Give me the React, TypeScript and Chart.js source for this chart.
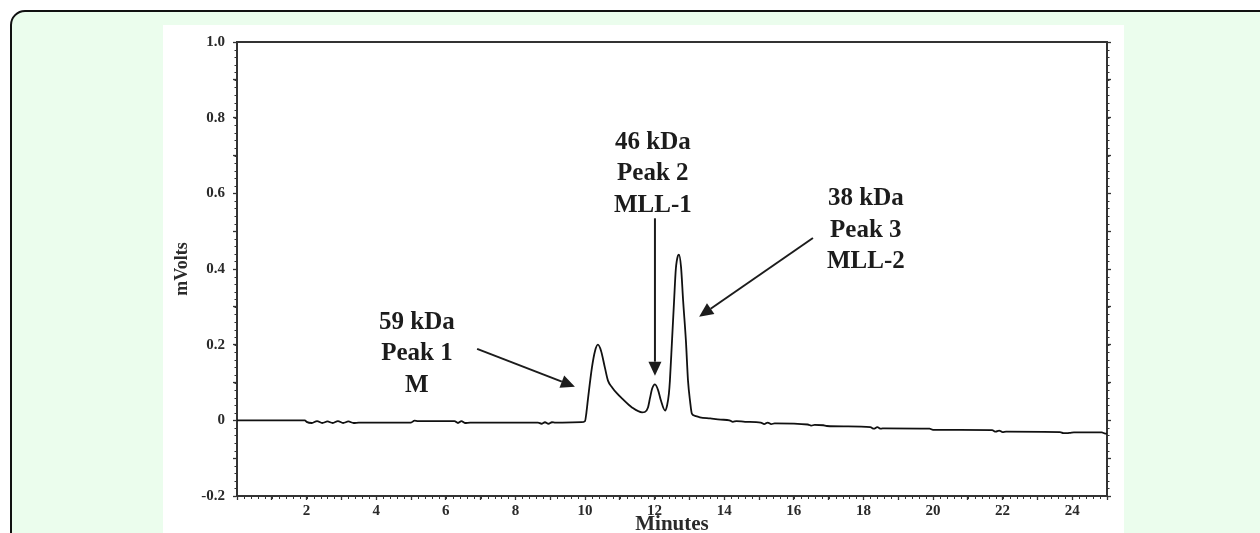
import React, { useEffect, useRef } from 'react';
import { Chart, registerables } from 'chart.js';

Chart.register(...registerables);

// ---- data ----
const minutes = [
  0, 1.95, 2.0, 2.15, 2.3, 2.45, 2.6, 2.75, 2.9, 3.05, 3.2, 3.35, 3.5, 5.0, 5.1, 5.2,
  6.25, 6.35, 6.45, 6.55, 6.7, 8.65, 8.75, 8.85, 8.95, 9.05, 9.15, 9.9, 10.0, 10.04,
  10.09, 10.2, 10.29, 10.37, 10.46, 10.57, 10.66, 10.78, 10.92, 11.06, 11.35, 11.64,
  11.72, 11.81, 11.87, 11.93, 12.01, 12.1, 12.18, 12.3, 12.36, 12.41, 12.44, 12.5,
  12.56, 12.61, 12.67, 12.7, 12.76, 12.82, 12.9, 12.96, 13.02, 13.07, 13.16, 13.3,
  13.6, 13.9, 14.15, 14.25, 14.35, 14.6, 15.05, 15.15, 15.25, 15.35, 15.45, 16.4,
  16.5, 16.6, 16.85, 16.95, 17.5, 18.2, 18.3, 18.4, 18.5, 18.6, 19.9, 20.0, 21.7,
  21.8, 21.9, 22.0, 22.1, 23.65, 23.75, 23.85, 23.95, 24.05, 24.85, 24.95, 25,
];
const mvolts = [
  0.0, 0.0, -0.004, -0.007, -0.002, -0.007, -0.003, -0.007, -0.002, -0.007, -0.003, -0.007, -0.006, -0.006, -0.001, -0.002,
  -0.002, -0.007, -0.002, -0.007, -0.006, -0.006, -0.009, -0.005, -0.009, -0.005, -0.006, -0.005, -0.002, 0.02,
  0.06, 0.14, 0.184, 0.2, 0.184, 0.14, 0.105, 0.087, 0.071, 0.058, 0.034, 0.021,
  0.022, 0.034, 0.06, 0.084, 0.095, 0.08, 0.053, 0.026, 0.04, 0.07, 0.105, 0.21,
  0.316, 0.4, 0.435, 0.438, 0.405, 0.316, 0.21, 0.105, 0.05, 0.018, 0.012, 0.008,
  0.005, 0.002, 0.0, -0.004, -0.002, -0.004, -0.006, -0.01, -0.006, -0.01, -0.008, -0.011,
  -0.014, -0.012, -0.013, -0.015, -0.016, -0.018, -0.022, -0.018, -0.022, -0.021, -0.022, -0.025, -0.026,
  -0.03, -0.027, -0.031, -0.03, -0.031, -0.034, -0.034, -0.033, -0.032, -0.032, -0.035, -0.035,
];

const xRange = [0, 25];
const yRange = [-0.2, 1.0];
const xMajorStep = 1;
const xLabelEvery = 2;
const xMinorStep = 0.2;
const yMajorStep = 0.1;
const yLabelEvery = 0.2;
const yMinorStep = 0.02;

const peak1Label = ['59 kDa', 'Peak 1', 'M'];
const peak2Label = ['46 kDa', 'Peak 2', 'MLL-1'];
const peak3Label = ['38 kDa', 'Peak 3', 'MLL-2'];

const xTitle = 'Minutes';
const yTitle = 'mVolts';

// ---- styling / layout ----
const FONT = '"Liberation Serif", "Times New Roman", serif';
const INK = '#1c1c1c';
const AXIS = '#333333';

// annotation anchors in data units (text baseline of first line, arrow tail/tip)
const annotations = [
  { lines: peak1Label, at: [5.17, 0.242], from: [6.9, 0.189], to: [9.71, 0.089] },
  { lines: peak2Label, at: [11.95, 0.718], from: [12.01, 0.534], to: [12.01, 0.118] },
  { lines: peak3Label, at: [18.07, 0.568], from: [16.55, 0.482], to: [13.28, 0.274] },
];

const annotationPlugin = {
  id: 'peakAnnotations',
  afterDatasetsDraw(chart: any) {
    const { ctx, scales } = chart;
    const x = scales.x;
    const y = scales.y;
    ctx.save();
    ctx.fillStyle = INK;
    ctx.strokeStyle = INK;
    ctx.font = `bold 25px ${FONT}`;
    ctx.textAlign = 'center';
    ctx.textBaseline = 'alphabetic';
    for (const a of annotations) {
      const px = x.getPixelForValue(a.at[0]);
      const py = y.getPixelForValue(a.at[1]);
      a.lines.forEach((t, i) => ctx.fillText(t, px, py + i * 31.5));
      const x1 = x.getPixelForValue(a.from[0]);
      const y1 = y.getPixelForValue(a.from[1]);
      const x2 = x.getPixelForValue(a.to[0]);
      const y2 = y.getPixelForValue(a.to[1]);
      const ang = Math.atan2(y2 - y1, x2 - x1);
      const head = 14;
      const half = 6.5;
      const bx = x2 - head * Math.cos(ang);
      const by = y2 - head * Math.sin(ang);
      ctx.lineWidth = 2;
      ctx.beginPath();
      ctx.moveTo(x1, y1);
      ctx.lineTo(bx, by);
      ctx.stroke();
      ctx.beginPath();
      ctx.moveTo(x2, y2);
      ctx.lineTo(bx + half * Math.sin(ang), by - half * Math.cos(ang));
      ctx.lineTo(bx - half * Math.sin(ang), by + half * Math.cos(ang));
      ctx.closePath();
      ctx.fill();
    }
    ctx.restore();
  },
};

const minorTickPlugin = {
  id: 'minorTicks',
  afterDraw(chart: any) {
    const { ctx, chartArea, scales } = chart;
    ctx.save();
    ctx.strokeStyle = AXIS;
    ctx.lineWidth = 1;
    ctx.beginPath();
    const nx = Math.round((xRange[1] - xRange[0]) / xMinorStep);
    for (let i = 0; i <= nx; i++) {
      const v = xRange[0] + i * xMinorStep;
      const p = Math.round(scales.x.getPixelForValue(v)) + 0.5;
      ctx.moveTo(p, chartArea.bottom);
      ctx.lineTo(p, chartArea.bottom + 3);
    }
    const ny = Math.round((yRange[1] - yRange[0]) / yMinorStep);
    for (let i = 0; i <= ny; i++) {
      const v = yRange[0] + i * yMinorStep;
      const p = Math.round(scales.y.getPixelForValue(v)) + 0.5;
      ctx.moveTo(chartArea.left - 2.5, p);
      ctx.lineTo(chartArea.left, p);
      ctx.moveTo(chartArea.right, p);
      ctx.lineTo(chartArea.right + 2.5, p);
    }
    ctx.stroke();
    ctx.restore();
  },
};

const isMultiple = (v: number, step: number) => {
  const r = v / step;
  return Math.abs(r - Math.round(r)) < 1e-6;
};

export default function App() {
  const ref = useRef<HTMLCanvasElement>(null);

  useEffect(() => {
    if (!ref.current) return;
    Chart.defaults.font.family = FONT;
    const points = minutes.map((m, i) => ({ x: m, y: mvolts[i] }));
    const chart = new Chart(ref.current, {
      type: 'line',
      data: {
        datasets: [
          {
            data: points,
            borderColor: '#111111',
            borderWidth: 1.8,
            pointRadius: 0,
            fill: false,
            cubicInterpolationMode: 'monotone',
            yAxisID: 'y',
            xAxisID: 'x',
          },
        ],
      },
      options: {
        animation: false,
        responsive: false,
        layout: { padding: 0 },
        plugins: {
          legend: { display: false },
          tooltip: { enabled: false },
          title: { display: false },
        },
        scales: {
          x: {
            type: 'linear',
            position: 'bottom',
            min: xRange[0],
            max: xRange[1],
            ticks: {
              stepSize: xMajorStep,
              autoSkip: false,
              maxRotation: 0,
              padding: 2,
              color: '#2a2a2a',
              font: { family: FONT, size: 15, weight: 'bold' },
              callback: (v: any) => {
                const n = Number(v);
                return isMultiple(n, xLabelEvery) && n > xRange[0] && n < xRange[1] ? String(Math.round(n)) : '';
              },
            },
            grid: { display: true, drawOnChartArea: false, drawTicks: true, tickLength: 4, tickColor: AXIS, tickWidth: 1.3 },
            border: { display: true, color: AXIS, width: 2 },
            title: {
              display: true,
              text: xTitle,
              color: '#2a2a2a',
              font: { family: FONT, size: 21, weight: 'bold', lineHeight: 1 },
              padding: { top: 0, bottom: -2 },
            },
            afterFit: (s: any) => { s.height = 37; },
          },
          x2: {
            type: 'linear',
            position: 'top',
            min: xRange[0],
            max: xRange[1],
            ticks: { display: false },
            grid: { display: false },
            border: { display: true, color: AXIS, width: 2 },
            afterFit: (s: any) => { s.height = 15; },
          },
          y: {
            type: 'linear',
            position: 'left',
            min: yRange[0],
            max: yRange[1],
            ticks: {
              stepSize: yMajorStep,
              autoSkip: false,
              padding: 8,
              color: '#2a2a2a',
              font: { family: FONT, size: 15, weight: 'bold' },
              callback: (v: any) => {
                const n = Number(v);
                if (!isMultiple(n, yLabelEvery)) return '';
                return Math.abs(n) < 1e-9 ? '0' : n.toFixed(1);
              },
            },
            grid: { display: true, drawOnChartArea: false, drawTicks: true, tickLength: 4, tickColor: AXIS, tickWidth: 1.3 },
            border: { display: true, color: AXIS, width: 2 },
            title: {
              display: true,
              text: yTitle,
              color: '#2a2a2a',
              font: { family: FONT, size: 18, weight: 'bold' },
              padding: { top: 9, bottom: 0 },
            },
            afterFit: (s: any) => { s.width = 74; },
          },
          y2: {
            type: 'linear',
            position: 'right',
            min: yRange[0],
            max: yRange[1],
            ticks: { display: false, stepSize: yMajorStep },
            grid: { display: true, drawOnChartArea: false, drawTicks: true, tickLength: 4, tickColor: AXIS, tickWidth: 1.3 },
            border: { display: true, color: AXIS, width: 2 },
            afterFit: (s: any) => { s.width = 17; },
          },
        },
      } as any,
      plugins: [minorTickPlugin, annotationPlugin],
    });
    return () => chart.destroy();
  }, []);

  return (
    <div
      style={{
        position: 'fixed',
        left: 0,
        top: 0,
        width: 1260,
        height: 533,
        overflow: 'hidden',
        background: '#ffffff',
      }}
    >
      <div
        style={{
          position: 'absolute',
          left: 10,
          top: 10,
          width: 1320,
          height: 620,
          boxSizing: 'border-box',
          border: '2px solid #111',
          borderRadius: 15,
          background: '#ebfded',
        }}
      />
      <div
        style={{
          position: 'absolute',
          left: 163,
          top: 25,
          width: 961,
          height: 520,
          background: '#ffffff',
        }}
      >
        <canvas ref={ref} width={961} height={508} style={{ display: 'block', width: 961, height: 508 }} />
      </div>
    </div>
  );
}
